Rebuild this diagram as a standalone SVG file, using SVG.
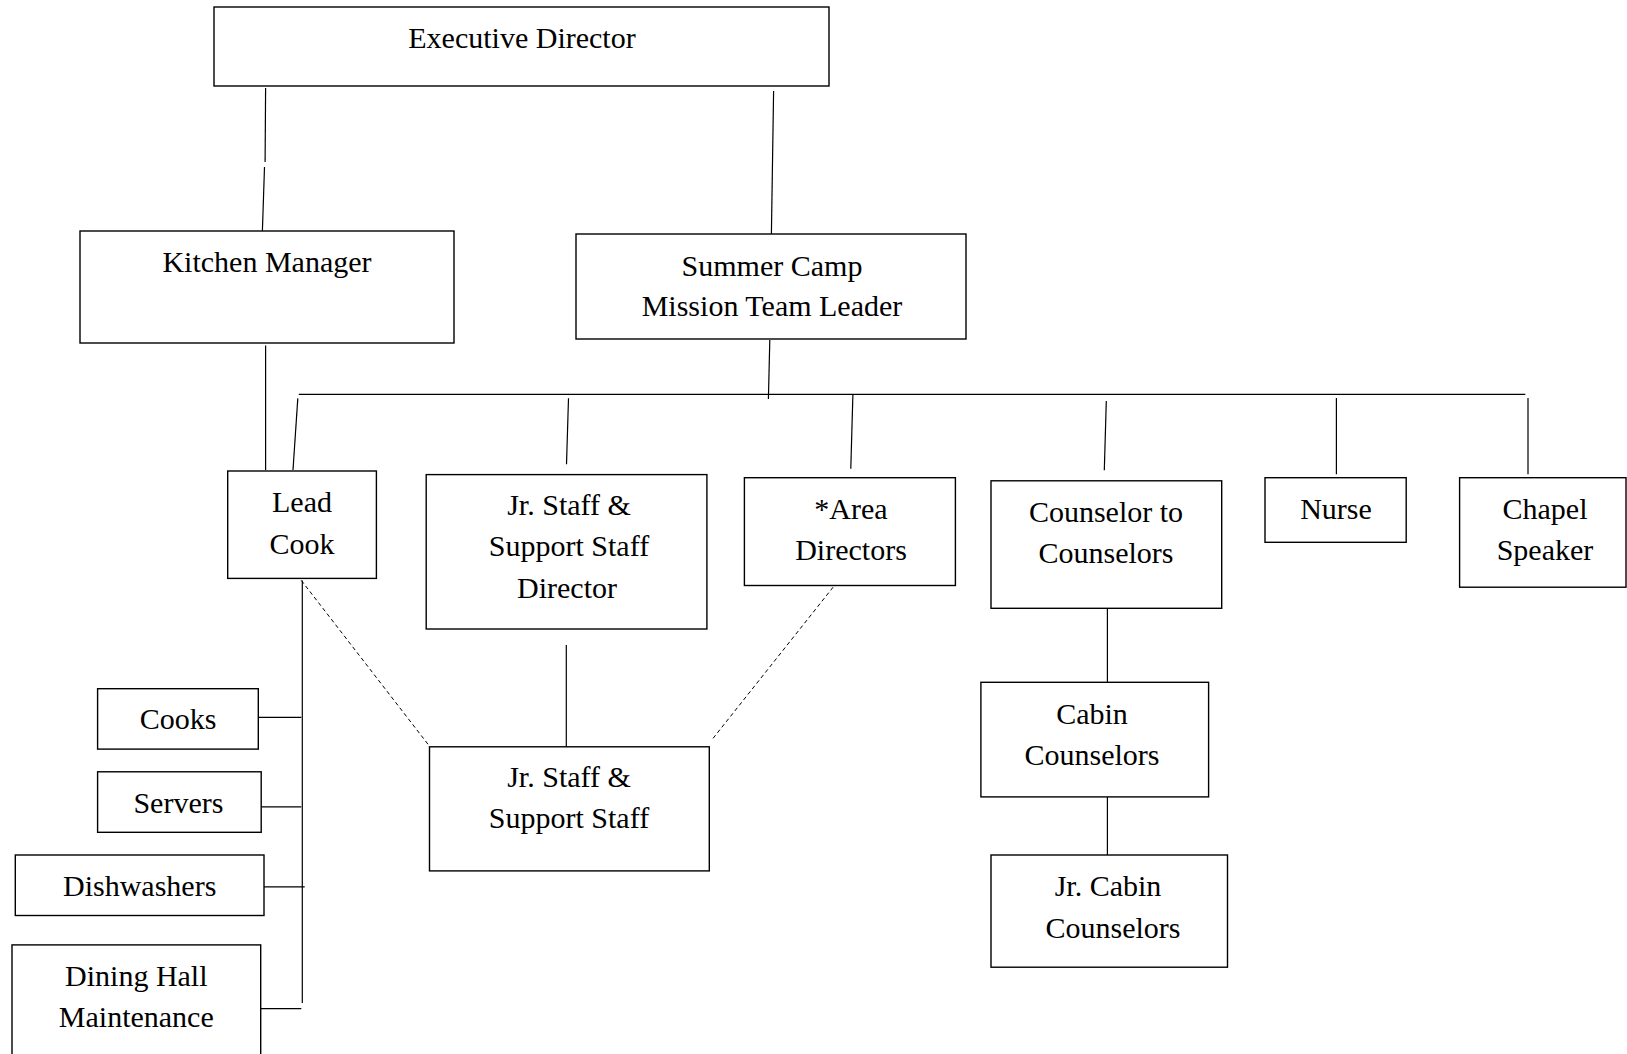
<svg xmlns="http://www.w3.org/2000/svg" width="1627" height="1054" viewBox="0 0 1627 1054">
<style>
.box{fill:#fff;stroke:#000;stroke-width:1.4}
.t{font-family:"Liberation Serif","Times New Roman",serif;font-size:30px;fill:#000;text-anchor:middle}
.c{stroke:#000;stroke-width:1.2;fill:none}
.d{stroke:#000;stroke-width:1;fill:none;stroke-dasharray:4 3}
</style>
<rect width="1627" height="1054" fill="#fff"/>
<g id="connectors">
<line class="c" x1="265.6" y1="88" x2="265.1" y2="162"/>
<line class="c" x1="264.5" y1="167" x2="262.4" y2="231"/>
<line class="c" x1="773.6" y1="91" x2="771.4" y2="234"/>
<line class="c" x1="769.8" y1="340" x2="768.4" y2="399"/>
<line class="c" x1="298.8" y1="394.3" x2="1525.3" y2="394.3"/>
<line class="c" x1="265.6" y1="345.5" x2="265.6" y2="470"/>
<line class="c" x1="297.8" y1="398.4" x2="293" y2="470"/>
<line class="c" x1="568.5" y1="398.3" x2="566.5" y2="464.3"/>
<line class="c" x1="852.9" y1="394.3" x2="850.8" y2="468.7"/>
<line class="c" x1="1106.3" y1="401" x2="1104.3" y2="470.3"/>
<line class="c" x1="1336.4" y1="398" x2="1336.4" y2="474.3"/>
<line class="c" x1="1528" y1="398" x2="1528" y2="474.3"/>
<line class="c" x1="302.3" y1="580.4" x2="302.3" y2="1003"/>
<line class="c" x1="258.3" y1="717.3" x2="301.3" y2="717.3"/>
<line class="c" x1="261.2" y1="806.8" x2="301.3" y2="806.8"/>
<line class="c" x1="264" y1="886.8" x2="304.7" y2="886.8"/>
<line class="c" x1="260.7" y1="1008.6" x2="301.3" y2="1008.6"/>
<line class="c" x1="566.3" y1="644.9" x2="566.3" y2="748.3"/>
<line class="c" x1="1107.4" y1="606.3" x2="1107.4" y2="682.3"/>
<line class="c" x1="1107.4" y1="796.9" x2="1107.4" y2="855"/>
<line class="d" x1="301.3" y1="580.4" x2="428.1" y2="744.4"/>
<line class="d" x1="833.1" y1="587.2" x2="713" y2="738.4"/>
</g>
<g id="executive-director">
<rect class="box" x="214" y="7" width="615" height="79"/>
<text class="t" x="522" y="48">Executive Director</text>
</g>
<g id="kitchen-manager">
<rect class="box" x="80" y="231" width="374" height="112"/>
<text class="t" x="267" y="272">Kitchen Manager</text>
</g>
<g id="summer-camp">
<rect class="box" x="576" y="234" width="390" height="105"/>
<text class="t" x="772" y="276">Summer Camp</text>
<text class="t" x="772" y="316">Mission Team Leader</text>
</g>
<g id="lead-cook">
<rect class="box" x="227.7" y="471" width="148.7" height="107.4"/>
<text class="t" x="302" y="512">Lead</text>
<text class="t" x="302" y="554">Cook</text>
</g>
<g id="jr-staff-director">
<rect class="box" x="426.2" y="474.6" width="280.7" height="154.4"/>
<text class="t" x="569" y="515">Jr. Staff &amp;</text>
<text class="t" x="569" y="556">Support Staff</text>
<text class="t" x="567" y="598">Director</text>
</g>
<g id="area-directors">
<rect class="box" x="744.4" y="477.7" width="211" height="107.8"/>
<text class="t" x="851" y="519">*Area</text>
<text class="t" x="851" y="560">Directors</text>
</g>
<g id="counselor-to-counselors">
<rect class="box" x="991" y="480.8" width="230.7" height="127.5"/>
<text class="t" x="1106" y="522">Counselor to</text>
<text class="t" x="1106" y="563">Counselors</text>
</g>
<g id="nurse">
<rect class="box" x="1265" y="477.7" width="141.2" height="64.6"/>
<text class="t" x="1336" y="519">Nurse</text>
</g>
<g id="chapel-speaker">
<rect class="box" x="1459.6" y="477.7" width="166.4" height="109.5"/>
<text class="t" x="1545" y="519">Chapel</text>
<text class="t" x="1545" y="560">Speaker</text>
</g>
<g id="cooks">
<rect class="box" x="97.6" y="688.7" width="160.7" height="60.4"/>
<text class="t" x="178" y="729">Cooks</text>
</g>
<g id="servers">
<rect class="box" x="97.6" y="771.8" width="163.6" height="60.5"/>
<text class="t" x="178.4" y="813">Servers</text>
</g>
<g id="dishwashers">
<rect class="box" x="15.3" y="855" width="248.7" height="60.5"/>
<text class="t" x="139.7" y="896">Dishwashers</text>
</g>
<g id="dining-hall">
<rect class="box" x="12" y="944.9" width="248.7" height="115"/>
<text class="t" x="136.3" y="986">Dining Hall</text>
<text class="t" x="136.3" y="1027">Maintenance</text>
</g>
<g id="jr-support-staff">
<rect class="box" x="429.5" y="746.8" width="279.8" height="124.1"/>
<text class="t" x="569" y="787">Jr. Staff &amp;</text>
<text class="t" x="569" y="828">Support Staff</text>
</g>
<g id="cabin-counselors">
<rect class="box" x="980.9" y="682.3" width="227.7" height="114.6"/>
<text class="t" x="1092" y="724">Cabin</text>
<text class="t" x="1092" y="765">Counselors</text>
</g>
<g id="jr-cabin-counselors">
<rect class="box" x="991" y="855" width="236.5" height="112.2"/>
<text class="t" x="1108" y="896">Jr. Cabin</text>
<text class="t" x="1113" y="938">Counselors</text>
</g>
</svg>
